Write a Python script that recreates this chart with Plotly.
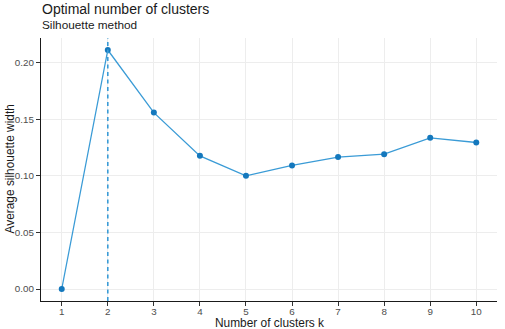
import plotly.graph_objects as go

k_values = [1, 2, 3, 4, 5, 6, 7, 8, 9, 10]
silhouette = [0.0, 0.2111, 0.1558, 0.1176, 0.1000, 0.1091, 0.1165, 0.1191, 0.1335, 0.1294]
optimal_k = 2
y_ticks = [0.00, 0.05, 0.10, 0.15, 0.20]
y_tick_labels = ["0.00", "0.05", "0.10", "0.15", "0.20"]

line_color = "#3A9BD6"
point_color = "#1478BD"
FONT = "Liberation Sans, Arial, sans-serif"

fig = go.Figure()
fig.add_trace(go.Scatter(
    x=k_values, y=silhouette, mode="lines+markers",
    line=dict(color=line_color, width=1.3),
    marker=dict(color=point_color, size=6),
    showlegend=False, cliponaxis=False,
))
fig.add_vline(x=optimal_k, line=dict(color=line_color, width=1.6, dash="4px,3.5px"))

fig.update_layout(
    width=505, height=329,
    margin=dict(l=41, r=8, t=38, b=28, autoexpand=False),
    paper_bgcolor="white", plot_bgcolor="white",
    font=dict(family=FONT, color="#1a1a1a"),
    annotations=[
        dict(text="Optimal number of clusters", x=0, y=1, xref="paper", yref="paper",
             xanchor="left", yanchor="middle", showarrow=False,
             font=dict(size=14, color="#1a1a1a"), xshift=-1, yshift=38 - 8.5),
        dict(text="Silhouette method", x=0, y=1, xref="paper", yref="paper",
             xanchor="left", yanchor="middle", showarrow=False,
             font=dict(size=11.8, color="#1a1a1a"), xshift=-1, yshift=38 - 25),
        dict(text="Number of clusters k", x=0.5, y=0, xref="paper", yref="paper",
             xanchor="center", yanchor="middle", showarrow=False,
             font=dict(size=11.9, color="#1a1a1a"), yshift=-22),
        dict(text="Average silhouette width", x=0, y=0.5, xref="paper", yref="paper",
             xanchor="center", yanchor="middle", showarrow=False, textangle=-90,
             font=dict(size=11.9, color="#1a1a1a"), xshift=-32),
    ],
)
fig.update_xaxes(
    range=[0.55, 10.45], tickvals=k_values, ticktext=[str(k) for k in k_values],
    showline=True, linecolor="#1a1a1a", linewidth=1.2, automargin=False,
    ticks="outside", ticklen=4, tickcolor="#333333", tickwidth=1,
    ticklabelstandoff=-3,
    showgrid=True, gridcolor="#ededed", gridwidth=1, zeroline=False,
    tickfont=dict(size=9.8, color="#4d4d4d"),
)
fig.update_yaxes(
    range=[-0.0106, 0.2217], tickvals=y_ticks, ticktext=y_tick_labels,
    showline=True, linecolor="#1a1a1a", linewidth=1.2, automargin=False,
    ticks="outside", ticklen=4, tickcolor="#333333", tickwidth=1,
    ticklabelstandoff=0,
    showgrid=True, gridcolor="#ededed", gridwidth=1, zeroline=False,
    tickfont=dict(size=9.8, color="#4d4d4d"),
)

fig.write_html(
    "out.html",
    config={"displayModeBar": False},
    post_script="document.body.style.margin='0';document.body.style.overflow='hidden';",
)
